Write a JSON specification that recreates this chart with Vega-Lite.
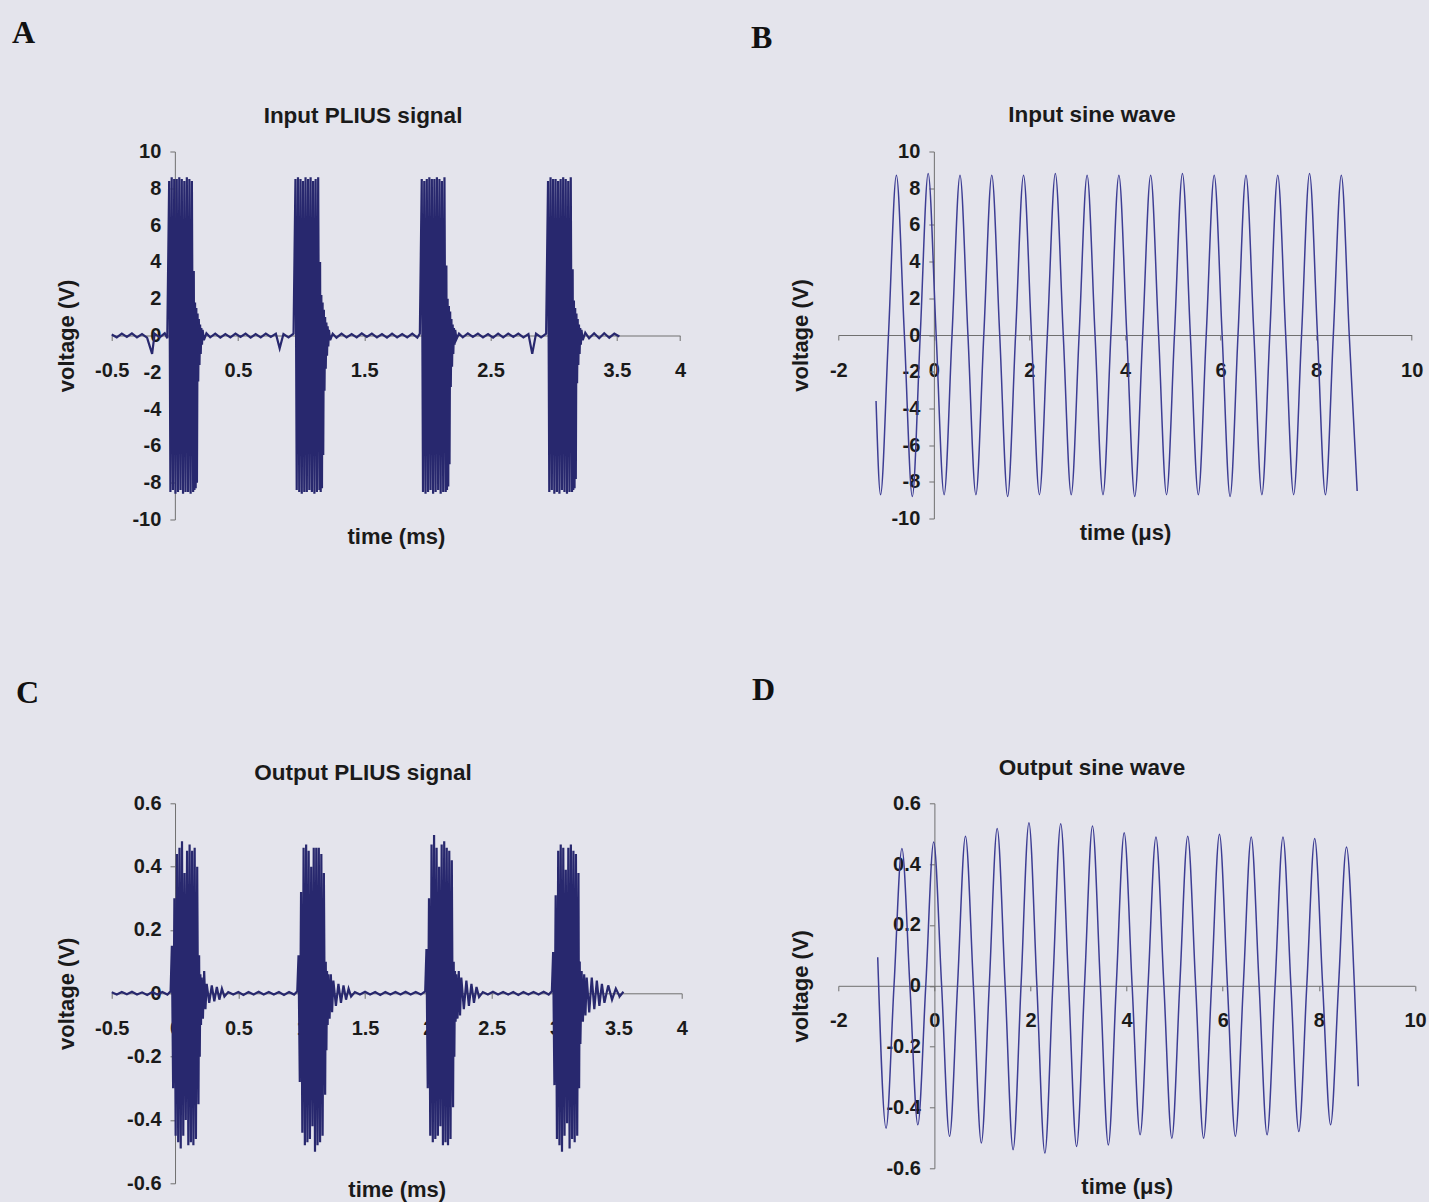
{
"$schema": "https://vega.github.io/schema/vega-lite/v6.json",
"autosize": {"type": "none"},
"padding": {"left": 111.7, "top": 151.5, "right": 1317.3, "bottom": 1050.5},
"background": "#e4e4ec",
"config": {
  "view": {"stroke": null},
  "font": "Liberation Sans",
  "axis": {"grid": false, "domainColor": "#707070", "tickColor": "#707070", "domainWidth": 1, "tickWidth": 1, "tickSize": 5,
    "labelFont": "Liberation Sans", "labelFontSize": 20, "labelFontWeight": "bold", "labelColor": "#1a1a1a",
    "titleFont": "Liberation Sans", "titleFontSize": 22, "titleFontWeight": "bold", "titleColor": "#1a1a1a",
    "labelOverlap": false, "labelFlush": false, "labelBound": false, "titleBaseline": "alphabetic"},
  "axisX": {"labelPadding": 20},
  "axisY": {"labelPadding": 9},
  "title": {"font": "Liberation Sans", "fontSize": 22.5, "fontWeight": "bold", "color": "#1a1a1a"}
},
"datasets": {
"A": [
{"t":-0.5,"v":0.05},{"t":-0.46,"v":-0.1},{"t":-0.42,"v":0.1},{"t":-0.38,"v":-0.08},{"t":-0.34,"v":0.12},{"t":-0.3,"v":-0.1},{"t":-0.26,"v":0.08},{"t":-0.22,"v":-0.12},{"t":-0.18,"v":-1.0},{"t":-0.16,"v":0.1},{"t":-0.12,"v":-0.1},{"t":-0.08,"v":0.12},{"t":-0.06,"v":-0.15},
{"t":-0.045,"v":8.4},{"t":-0.035,"v":-8.5},{"t":-0.025,"v":8.6},{"t":-0.015,"v":-8.4},{"t":-0.005,"v":8.5},{"t":0.005,"v":-8.6},{"t":0.015,"v":8.5},{"t":0.025,"v":-8.5},{"t":0.035,"v":8.6},{"t":0.045,"v":-8.4},{"t":0.055,"v":8.5},{"t":0.065,"v":-8.6},{"t":0.075,"v":8.4},{"t":0.085,"v":-8.5},{"t":0.095,"v":8.6},{"t":0.105,"v":-8.5},{"t":0.115,"v":8.5},{"t":0.125,"v":-8.6},{"t":0.135,"v":8.4},{"t":0.145,"v":-8.5},
{"t":0.15,"v":3.5},{"t":0.155,"v":-8.4},{"t":0.16,"v":1.8},{"t":0.165,"v":-8.3},{"t":0.17,"v":1.5},{"t":0.175,"v":-8.0},{"t":0.18,"v":1.2},{"t":0.185,"v":-2.5},{"t":0.19,"v":0.9},{"t":0.195,"v":-1.6},{"t":0.2,"v":0.6},{"t":0.205,"v":-1.0},{"t":0.21,"v":0.4},{"t":0.215,"v":-0.5},{"t":0.22,"v":0.3},{"t":0.23,"v":-0.25},
{"t":0.25,"v":0.12},{"t":0.28,"v":-0.1},{"t":0.32,"v":0.1},{"t":0.36,"v":-0.12},{"t":0.4,"v":0.08},{"t":0.44,"v":-0.1},{"t":0.48,"v":0.1},{"t":0.52,"v":-0.08},{"t":0.56,"v":0.1},{"t":0.6,"v":-0.12},{"t":0.64,"v":0.08},{"t":0.68,"v":-0.1},{"t":0.72,"v":0.1},{"t":0.76,"v":-0.08},{"t":0.8,"v":0.1},{"t":0.83,"v":-0.7},{"t":0.86,"v":0.08},{"t":0.9,"v":-0.1},{"t":0.94,"v":0.1},
{"t":0.955,"v":8.5},{"t":0.965,"v":-8.4},{"t":0.975,"v":8.6},{"t":0.985,"v":-8.5},{"t":0.995,"v":8.5},{"t":1.005,"v":-8.6},{"t":1.015,"v":8.4},{"t":1.025,"v":-8.5},{"t":1.035,"v":8.6},{"t":1.045,"v":-8.5},{"t":1.055,"v":8.5},{"t":1.065,"v":-8.4},{"t":1.075,"v":8.6},{"t":1.085,"v":-8.5},{"t":1.095,"v":8.4},{"t":1.105,"v":-8.6},{"t":1.115,"v":8.5},{"t":1.125,"v":-8.5},{"t":1.135,"v":8.6},{"t":1.145,"v":-8.4},
{"t":1.15,"v":4.0},{"t":1.155,"v":-8.5},{"t":1.16,"v":2.2},{"t":1.165,"v":-8.3},{"t":1.17,"v":1.8},{"t":1.175,"v":-6.5},{"t":1.18,"v":1.4},{"t":1.185,"v":-3.0},{"t":1.19,"v":1.0},{"t":1.195,"v":-1.8},{"t":1.2,"v":0.7},{"t":1.205,"v":-1.1},{"t":1.21,"v":0.5},{"t":1.215,"v":-0.6},{"t":1.22,"v":0.3},{"t":1.23,"v":-0.25},
{"t":1.25,"v":0.1},{"t":1.28,"v":-0.12},{"t":1.32,"v":0.1},{"t":1.36,"v":-0.1},{"t":1.4,"v":0.08},{"t":1.44,"v":-0.1},{"t":1.48,"v":0.12},{"t":1.52,"v":-0.08},{"t":1.56,"v":0.1},{"t":1.6,"v":-0.1},{"t":1.64,"v":0.08},{"t":1.68,"v":-0.12},{"t":1.72,"v":0.1},{"t":1.76,"v":-0.1},{"t":1.8,"v":0.08},{"t":1.84,"v":-0.1},{"t":1.88,"v":0.1},{"t":1.92,"v":-0.12},{"t":1.94,"v":0.1},
{"t":1.955,"v":8.5},{"t":1.965,"v":-8.5},{"t":1.975,"v":8.4},{"t":1.985,"v":-8.6},{"t":1.995,"v":8.5},{"t":2.005,"v":-8.5},{"t":2.015,"v":8.6},{"t":2.025,"v":-8.4},{"t":2.035,"v":8.5},{"t":2.045,"v":-8.6},{"t":2.055,"v":8.5},{"t":2.065,"v":-8.5},{"t":2.075,"v":8.6},{"t":2.085,"v":-8.4},{"t":2.095,"v":8.5},{"t":2.105,"v":-8.6},{"t":2.115,"v":8.4},{"t":2.125,"v":-8.5},{"t":2.135,"v":8.6},{"t":2.145,"v":-8.5},
{"t":2.15,"v":3.8},{"t":2.155,"v":-8.4},{"t":2.16,"v":2.0},{"t":2.165,"v":-8.2},{"t":2.17,"v":1.6},{"t":2.175,"v":-7.0},{"t":2.18,"v":1.3},{"t":2.185,"v":-2.8},{"t":2.19,"v":0.9},{"t":2.195,"v":-1.7},{"t":2.2,"v":0.6},{"t":2.205,"v":-1.0},{"t":2.21,"v":0.4},{"t":2.215,"v":-0.5},{"t":2.22,"v":0.3},{"t":2.23,"v":-0.2},
{"t":2.25,"v":0.1},{"t":2.28,"v":-0.1},{"t":2.32,"v":0.12},{"t":2.36,"v":-0.08},{"t":2.4,"v":0.1},{"t":2.44,"v":-0.1},{"t":2.48,"v":0.08},{"t":2.52,"v":-0.12},{"t":2.56,"v":0.1},{"t":2.6,"v":-0.1},{"t":2.64,"v":0.1},{"t":2.68,"v":-0.08},{"t":2.72,"v":0.1},{"t":2.76,"v":-0.1},{"t":2.8,"v":0.08},{"t":2.83,"v":-1.0},{"t":2.86,"v":0.1},{"t":2.9,"v":-0.1},{"t":2.94,"v":0.1},
{"t":2.955,"v":8.4},{"t":2.965,"v":-8.5},{"t":2.975,"v":8.6},{"t":2.985,"v":-8.4},{"t":2.995,"v":8.5},{"t":3.005,"v":-8.6},{"t":3.015,"v":8.5},{"t":3.025,"v":-8.5},{"t":3.035,"v":8.4},{"t":3.045,"v":-8.6},{"t":3.055,"v":8.5},{"t":3.065,"v":-8.4},{"t":3.075,"v":8.6},{"t":3.085,"v":-8.5},{"t":3.095,"v":8.5},{"t":3.105,"v":-8.6},{"t":3.115,"v":8.4},{"t":3.125,"v":-8.5},{"t":3.135,"v":8.6},{"t":3.145,"v":-8.5},
{"t":3.15,"v":3.6},{"t":3.155,"v":-8.4},{"t":3.16,"v":1.9},{"t":3.165,"v":-8.3},{"t":3.17,"v":1.5},{"t":3.175,"v":-7.8},{"t":3.18,"v":1.2},{"t":3.185,"v":-2.6},{"t":3.19,"v":0.9},{"t":3.195,"v":-1.6},{"t":3.2,"v":0.6},{"t":3.205,"v":-1.0},{"t":3.21,"v":0.4},{"t":3.215,"v":-0.5},{"t":3.22,"v":0.3},{"t":3.23,"v":-0.25},
{"t":3.25,"v":0.15},{"t":3.28,"v":-0.15},{"t":3.32,"v":0.12},{"t":3.36,"v":-0.15},{"t":3.4,"v":0.12},{"t":3.44,"v":-0.12},{"t":3.48,"v":0.1},{"t":3.52,"v":-0.05}
],
"B": [
{"t":-1.21,"v":-3.6},
{"t":-1.116,"v":-8.7},{"t":-0.95,"v":0},{"t":-0.784,"v":8.7},{"t":-0.617,"v":0},
{"t":-0.451,"v":-8.8},{"t":-0.285,"v":0},{"t":-0.119,"v":8.8},{"t":0.048,"v":0},
{"t":0.214,"v":-8.7},{"t":0.38,"v":0},{"t":0.547,"v":8.7},{"t":0.713,"v":0},
{"t":0.879,"v":-8.7},{"t":1.045,"v":0},{"t":1.212,"v":8.7},{"t":1.378,"v":0},
{"t":1.544,"v":-8.8},{"t":1.71,"v":0},{"t":1.877,"v":8.7},{"t":2.043,"v":0},
{"t":2.209,"v":-8.7},{"t":2.375,"v":0},{"t":2.542,"v":8.8},{"t":2.708,"v":0},
{"t":2.874,"v":-8.7},{"t":3.04,"v":0},{"t":3.207,"v":8.7},{"t":3.373,"v":0},
{"t":3.539,"v":-8.7},{"t":3.705,"v":0},{"t":3.872,"v":8.7},{"t":4.038,"v":0},
{"t":4.204,"v":-8.8},{"t":4.37,"v":0},{"t":4.537,"v":8.7},{"t":4.703,"v":0},
{"t":4.869,"v":-8.7},{"t":5.035,"v":0},{"t":5.202,"v":8.8},{"t":5.368,"v":0},
{"t":5.534,"v":-8.7},{"t":5.7,"v":0},{"t":5.867,"v":8.7},{"t":6.033,"v":0},
{"t":6.199,"v":-8.8},{"t":6.365,"v":0},{"t":6.532,"v":8.7},{"t":6.698,"v":0},
{"t":6.864,"v":-8.7},{"t":7.03,"v":0},{"t":7.197,"v":8.7},{"t":7.363,"v":0},
{"t":7.529,"v":-8.7},{"t":7.695,"v":0},{"t":7.862,"v":8.8},{"t":8.028,"v":0},
{"t":8.194,"v":-8.7},{"t":8.36,"v":0},{"t":8.527,"v":8.7},{"t":8.693,"v":0},
{"t":8.859,"v":-8.5}
],
"C": [
{"t":-0.5,"v":0.003},{"t":-0.46,"v":-0.004},{"t":-0.42,"v":0.004},{"t":-0.38,"v":-0.003},{"t":-0.34,"v":0.005},{"t":-0.3,"v":-0.004},{"t":-0.26,"v":0.003},{"t":-0.22,"v":-0.005},{"t":-0.18,"v":0.004},{"t":-0.14,"v":-0.004},{"t":-0.1,"v":0.004},{"t":-0.06,"v":-0.004},{"t":-0.035,"v":0.006},
{"t":-0.025,"v":0.15},{"t":-0.015,"v":-0.3},{"t":-0.005,"v":0.3},{"t":0.005,"v":-0.45},{"t":0.015,"v":0.44},{"t":0.025,"v":-0.47},{"t":0.035,"v":0.46},{"t":0.045,"v":-0.49},{"t":0.055,"v":0.48},{"t":0.065,"v":-0.45},{"t":0.075,"v":0.38},{"t":0.085,"v":-0.4},{"t":0.095,"v":0.45},{"t":0.105,"v":-0.48},{"t":0.115,"v":0.47},{"t":0.125,"v":-0.47},{"t":0.135,"v":0.45},{"t":0.145,"v":-0.48},{"t":0.155,"v":0.46},{"t":0.165,"v":-0.46},{"t":0.175,"v":0.4},{"t":0.185,"v":-0.35},
{"t":0.19,"v":0.12},{"t":0.195,"v":-0.2},{"t":0.2,"v":0.06},{"t":0.205,"v":-0.1},{"t":0.21,"v":0.05},{"t":0.22,"v":-0.08},{"t":0.23,"v":0.07},{"t":0.24,"v":-0.05},{"t":0.25,"v":0.03},{"t":0.27,"v":-0.03},{"t":0.29,"v":0.025},{"t":0.31,"v":-0.025},{"t":0.33,"v":0.02},{"t":0.35,"v":-0.02},{"t":0.37,"v":0.015},{"t":0.39,"v":-0.01},
{"t":0.42,"v":0.004},{"t":0.46,"v":-0.004},{"t":0.5,"v":0.004},{"t":0.54,"v":-0.005},{"t":0.58,"v":0.004},{"t":0.62,"v":-0.004},{"t":0.66,"v":0.005},{"t":0.7,"v":-0.004},{"t":0.74,"v":0.004},{"t":0.78,"v":-0.004},{"t":0.82,"v":0.004},{"t":0.86,"v":-0.005},{"t":0.9,"v":0.004},{"t":0.94,"v":-0.004},{"t":0.965,"v":0.006},
{"t":0.975,"v":0.12},{"t":0.985,"v":-0.28},{"t":0.995,"v":0.32},{"t":1.005,"v":-0.44},{"t":1.015,"v":0.46},{"t":1.025,"v":-0.48},{"t":1.035,"v":0.47},{"t":1.045,"v":-0.47},{"t":1.055,"v":0.45},{"t":1.065,"v":-0.46},{"t":1.075,"v":0.4},{"t":1.085,"v":-0.42},{"t":1.095,"v":0.46},{"t":1.105,"v":-0.5},{"t":1.115,"v":0.46},{"t":1.125,"v":-0.48},{"t":1.135,"v":0.46},{"t":1.145,"v":-0.47},{"t":1.155,"v":0.44},{"t":1.165,"v":-0.45},{"t":1.175,"v":0.38},{"t":1.185,"v":-0.32},
{"t":1.19,"v":0.1},{"t":1.195,"v":-0.18},{"t":1.2,"v":0.07},{"t":1.205,"v":-0.1},{"t":1.21,"v":0.06},{"t":1.22,"v":-0.08},{"t":1.23,"v":0.06},{"t":1.24,"v":-0.06},{"t":1.25,"v":0.04},{"t":1.27,"v":-0.04},{"t":1.29,"v":0.03},{"t":1.31,"v":-0.03},{"t":1.33,"v":0.025},{"t":1.35,"v":-0.02},{"t":1.37,"v":0.015},{"t":1.39,"v":-0.01},
{"t":1.42,"v":0.004},{"t":1.46,"v":-0.004},{"t":1.5,"v":0.005},{"t":1.54,"v":-0.004},{"t":1.58,"v":0.004},{"t":1.62,"v":-0.005},{"t":1.66,"v":0.004},{"t":1.7,"v":-0.004},{"t":1.74,"v":0.004},{"t":1.78,"v":-0.004},{"t":1.82,"v":0.005},{"t":1.86,"v":-0.004},{"t":1.9,"v":0.004},{"t":1.94,"v":-0.004},{"t":1.975,"v":0.006},
{"t":1.985,"v":0.14},{"t":1.995,"v":-0.3},{"t":2.005,"v":0.3},{"t":2.015,"v":-0.45},{"t":2.025,"v":0.47},{"t":2.035,"v":-0.47},{"t":2.045,"v":0.5},{"t":2.055,"v":-0.46},{"t":2.065,"v":0.46},{"t":2.075,"v":-0.45},{"t":2.085,"v":0.4},{"t":2.095,"v":-0.42},{"t":2.105,"v":0.47},{"t":2.115,"v":-0.48},{"t":2.125,"v":0.48},{"t":2.135,"v":-0.47},{"t":2.145,"v":0.46},{"t":2.155,"v":-0.48},{"t":2.165,"v":0.45},{"t":2.175,"v":-0.46},{"t":2.185,"v":0.42},{"t":2.195,"v":-0.36},
{"t":2.2,"v":0.1},{"t":2.205,"v":-0.2},{"t":2.21,"v":0.07},{"t":2.215,"v":-0.09},{"t":2.22,"v":0.06},{"t":2.23,"v":-0.08},{"t":2.24,"v":0.07},{"t":2.25,"v":-0.07},{"t":2.26,"v":0.05},{"t":2.28,"v":-0.05},{"t":2.3,"v":0.04},{"t":2.32,"v":-0.04},{"t":2.34,"v":0.03},{"t":2.36,"v":-0.03},{"t":2.38,"v":0.02},{"t":2.4,"v":-0.012},
{"t":2.43,"v":0.004},{"t":2.47,"v":-0.004},{"t":2.51,"v":0.005},{"t":2.55,"v":-0.004},{"t":2.59,"v":0.004},{"t":2.63,"v":-0.004},{"t":2.67,"v":0.004},{"t":2.71,"v":-0.005},{"t":2.75,"v":0.004},{"t":2.79,"v":-0.004},{"t":2.83,"v":0.004},{"t":2.87,"v":-0.004},{"t":2.91,"v":0.005},{"t":2.95,"v":-0.004},{"t":2.975,"v":0.006},
{"t":2.985,"v":0.13},{"t":2.995,"v":-0.29},{"t":3.005,"v":0.31},{"t":3.015,"v":-0.46},{"t":3.025,"v":0.45},{"t":3.035,"v":-0.48},{"t":3.045,"v":0.47},{"t":3.055,"v":-0.5},{"t":3.065,"v":0.46},{"t":3.075,"v":-0.45},{"t":3.085,"v":0.39},{"t":3.095,"v":-0.41},{"t":3.105,"v":0.46},{"t":3.115,"v":-0.49},{"t":3.125,"v":0.47},{"t":3.135,"v":-0.46},{"t":3.145,"v":0.45},{"t":3.155,"v":-0.47},{"t":3.165,"v":0.44},{"t":3.175,"v":-0.45},{"t":3.185,"v":0.38},{"t":3.19,"v":-0.3},
{"t":3.195,"v":0.1},{"t":3.2,"v":-0.16},{"t":3.21,"v":0.07},{"t":3.22,"v":-0.09},{"t":3.23,"v":0.06},{"t":3.24,"v":-0.07},{"t":3.25,"v":0.05},{"t":3.27,"v":-0.06},{"t":3.29,"v":0.05},{"t":3.31,"v":-0.05},{"t":3.33,"v":0.04},{"t":3.35,"v":-0.04},{"t":3.37,"v":0.03},{"t":3.39,"v":-0.03},{"t":3.42,"v":0.025},{"t":3.45,"v":-0.02},{"t":3.48,"v":0.015},{"t":3.51,"v":-0.01},{"t":3.54,"v":0.005}
],
"D": [
{"t":-1.18,"v":0.094},
{"t":-1.006,"v":-0.468},{"t":-0.841,"v":0},{"t":-0.676,"v":0.451},{"t":-0.51,"v":0},
{"t":-0.345,"v":-0.457},{"t":-0.18,"v":0},{"t":-0.015,"v":0.473},{"t":0.15,"v":0},
{"t":0.315,"v":-0.495},{"t":0.481,"v":0},{"t":0.646,"v":0.492},{"t":0.811,"v":0},
{"t":0.976,"v":-0.517},{"t":1.141,"v":0},{"t":1.306,"v":0.517},{"t":1.472,"v":0},
{"t":1.637,"v":-0.539},{"t":1.802,"v":0},{"t":1.967,"v":0.536},{"t":2.132,"v":0},
{"t":2.298,"v":-0.55},{"t":2.463,"v":0},{"t":2.628,"v":0.533},{"t":2.793,"v":0},
{"t":2.958,"v":-0.528},{"t":3.123,"v":0},{"t":3.289,"v":0.525},{"t":3.454,"v":0},
{"t":3.619,"v":-0.523},{"t":3.784,"v":0},{"t":3.949,"v":0.503},{"t":4.114,"v":0},
{"t":4.28,"v":-0.49},{"t":4.445,"v":0},{"t":4.61,"v":0.489},{"t":4.775,"v":0},
{"t":4.94,"v":-0.501},{"t":5.105,"v":0},{"t":5.271,"v":0.492},{"t":5.436,"v":0},
{"t":5.601,"v":-0.501},{"t":5.766,"v":0},{"t":5.931,"v":0.498},{"t":6.097,"v":0},
{"t":6.262,"v":-0.495},{"t":6.427,"v":0},{"t":6.592,"v":0.489},{"t":6.757,"v":0},
{"t":6.922,"v":-0.49},{"t":7.088,"v":0},{"t":7.253,"v":0.489},{"t":7.418,"v":0},
{"t":7.583,"v":-0.479},{"t":7.748,"v":0},{"t":7.913,"v":0.484},{"t":8.079,"v":0},
{"t":8.244,"v":-0.457},{"t":8.409,"v":0},{"t":8.574,"v":0.456},{"t":8.739,"v":0},
{"t":8.82,"v":-0.33}
]
},
"columns": 2,
"bounds": "flush",
"spacing": {"row": 283.8, "column": 156.6},
"concat": [
{
  "width": 568.3, "height": 368,
  "title": {"text": "Input PLIUS signal", "orient": "none", "anchor": "middle", "frame": "group", "dx": 251.3, "dy": -28.8, "baseline": "alphabetic"},
  "layer": [
    {"data": {"name": "A"},
     "mark": {"type": "line", "color": "#28286e", "strokeWidth": 2.2},
     "encoding": {
       "x": {"field": "t", "type": "quantitative", "scale": {"domain": [-0.5, 4], "nice": false, "zero": false},
             "axis": {"title": "time (ms)", "values": [-0.5,0,0.5,1,1.5,2,2.5,3,3.5,4], "tickCount": 30, "offset": -184, "titleY": 207.5, "labelOverlap": false,
                      "labelExpr": "datum.value < 0 ? '-' + format(-datum.value, '~g') : format(datum.value, '~g')"}},
       "y": {"field": "v", "type": "quantitative", "scale": {"domain": [-10, 10], "nice": false, "zero": false},
             "axis": {"title": "voltage (V)", "values": [-10,-8,-6,-4,-2,0,2,4,6,8,10], "tickCount": 30, "offset": -63.15, "titleX": -101.8, "labelOverlap": false,
                      "labelExpr": "datum.value < 0 ? '-' + format(-datum.value, '~g') : format(datum.value, '~g')"}}
     }},
    {"data": {"values": [{"t": -1.2895, "v": 15.91, "letter": "A"}]},
     "mark": {"type": "text", "font": "Liberation Serif", "fontSize": 32, "fontWeight": "bold", "align": "left", "baseline": "alphabetic", "color": "#111111"},
     "encoding": {"x": {"field": "t", "type": "quantitative"}, "y": {"field": "v", "type": "quantitative"}, "text": {"field": "letter"}}}
  ]
},
{
  "width": 573.4, "height": 367,
  "title": {"text": "Input sine wave", "orient": "none", "anchor": "middle", "frame": "group", "dx": 253.7, "dy": -29.5, "baseline": "alphabetic"},
  "layer": [
    {"data": {"name": "B"},
     "mark": {"type": "line", "color": "#3d3d94", "strokeWidth": 1.5, "interpolate": "monotone"},
     "encoding": {
       "x": {"field": "t", "type": "quantitative", "scale": {"domain": [-2, 10], "nice": false, "zero": false},
             "axis": {"title": "time (μs)", "values": [-2,0,2,4,6,8,10], "tickCount": 30, "offset": -183.5, "titleY": 204, "labelOverlap": false,
                      "labelExpr": "datum.value < 0 ? '-' + format(-datum.value, '~g') : format(datum.value, '~g')"}},
       "y": {"field": "v", "type": "quantitative", "scale": {"domain": [-10, 10], "nice": false, "zero": false},
             "axis": {"title": "voltage (V)", "values": [-10,-8,-6,-4,-2,0,2,4,6,8,10], "tickCount": 30, "offset": -95.57, "titleX": -125.9, "labelOverlap": false,
                      "labelExpr": "datum.value < 0 ? '-' + format(-datum.value, '~g') : format(datum.value, '~g')"}}
     }},
    {"data": {"values": [{"t": -3.827, "v": 15.64, "letter": "B"}]},
     "mark": {"type": "text", "font": "Liberation Serif", "fontSize": 32, "fontWeight": "bold", "align": "left", "baseline": "alphabetic", "color": "#111111"},
     "encoding": {"x": {"field": "t", "type": "quantitative"}, "y": {"field": "v", "type": "quantitative"}, "text": {"field": "letter"}}}
  ]
},
{
  "width": 570, "height": 380,
  "title": {"text": "Output PLIUS signal", "orient": "none", "anchor": "middle", "frame": "group", "dx": 251.3, "dy": -23.3, "baseline": "alphabetic"},
  "layer": [
    {"data": {"name": "C"},
     "mark": {"type": "line", "color": "#28286e", "strokeWidth": 2.2},
     "encoding": {
       "x": {"field": "t", "type": "quantitative", "scale": {"domain": [-0.5, 4], "nice": false, "zero": false},
             "axis": {"title": "time (ms)", "values": [-0.5,0,0.5,1,1.5,2,2.5,3,3.5,4], "tickCount": 30, "offset": -190, "titleY": 202.7, "labelOverlap": false,
                      "labelExpr": "datum.value < 0 ? '-' + format(-datum.value, '~g') : format(datum.value, '~g')"}},
       "y": {"field": "v", "type": "quantitative", "scale": {"domain": [-0.6, 0.6], "nice": false, "zero": false},
             "axis": {"title": "voltage (V)", "values": [-0.6,-0.4,-0.2,0,0.2,0.4,0.6], "tickCount": 30, "offset": -63.33, "titleX": -102, "labelOverlap": false,
                      "labelExpr": "datum.value < 0 ? '-' + format(-datum.value, '~g') : format(datum.value, '~g')"}}
     }},
    {"data": {"values": [{"t": -1.2555, "v": 0.9167, "letter": "C"}]},
     "mark": {"type": "text", "font": "Liberation Serif", "fontSize": 32, "fontWeight": "bold", "align": "left", "baseline": "alphabetic", "color": "#111111"},
     "encoding": {"x": {"field": "t", "type": "quantitative"}, "y": {"field": "v", "type": "quantitative"}, "text": {"field": "letter"}}}
  ]
},
{
  "width": 576.7, "height": 365,
  "title": {"text": "Output sine wave", "orient": "none", "anchor": "middle", "frame": "group", "dx": 253.7, "dy": -28.3, "baseline": "alphabetic"},
  "layer": [
    {"data": {"name": "D"},
     "mark": {"type": "line", "color": "#3d3d94", "strokeWidth": 1.5, "interpolate": "monotone"},
     "encoding": {
       "x": {"field": "t", "type": "quantitative", "scale": {"domain": [-2, 10], "nice": false, "zero": false},
             "axis": {"title": "time (μs)", "values": [-2,0,2,4,6,8,10], "tickCount": 30, "offset": -182.5, "titleY": 208, "labelOverlap": false,
                      "labelExpr": "datum.value < 0 ? '-' + format(-datum.value, '~g') : format(datum.value, '~g')"}},
       "y": {"field": "v", "type": "quantitative", "scale": {"domain": [-0.6, 0.6], "nice": false, "zero": false},
             "axis": {"title": "voltage (V)", "values": [-0.6,-0.4,-0.2,0,0.2,0.4,0.6], "tickCount": 30, "offset": -96.1, "titleX": -126.4, "labelOverlap": false,
                      "labelExpr": "datum.value < 0 ? '-' + format(-datum.value, '~g') : format(datum.value, '~g')"}}
     }},
    {"data": {"values": [{"t": -3.795, "v": 0.9396, "letter": "D"}]},
     "mark": {"type": "text", "font": "Liberation Serif", "fontSize": 32, "fontWeight": "bold", "align": "left", "baseline": "alphabetic", "color": "#111111"},
     "encoding": {"x": {"field": "t", "type": "quantitative"}, "y": {"field": "v", "type": "quantitative"}, "text": {"field": "letter"}}}
  ]
}
]
}
